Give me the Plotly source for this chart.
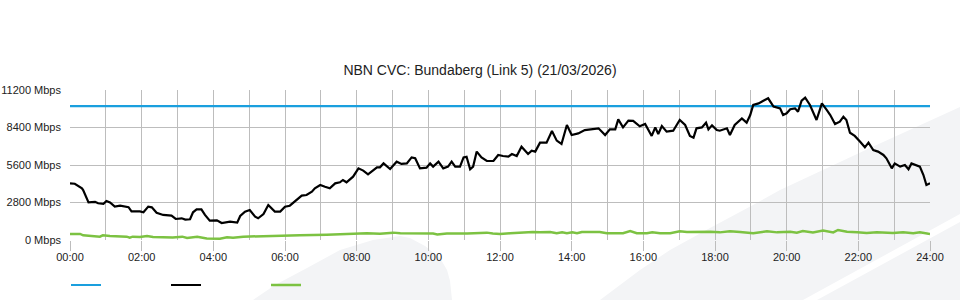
import plotly.graph_objects as go

# ---------------- data ----------------
title_text = "NBN CVC: Bundaberg (Link 5) (21/03/2026)"

tick_minutes = [0, 120, 240, 360, 480, 600, 720, 840, 960, 1080, 1200, 1320, 1440]
tick_labels = ["00:00", "02:00", "04:00", "06:00", "08:00", "10:00", "12:00",
               "14:00", "16:00", "18:00", "20:00", "22:00", "24:00"]
y_ticks = [0, 2800, 5600, 8400, 11200]
y_tick_labels = ["0 Mbps", "2800 Mbps", "5600 Mbps", "8400 Mbps", "11200 Mbps"]

capacity_min = [0, 1440]
capacity_val = [10000, 10000]

traffic_min = [0, 8, 20, 22, 31, 42, 47, 56, 61, 67, 75, 84, 98, 103, 117, 123, 131, 137,
               145, 156, 170, 177, 187, 193, 201, 206, 212, 220, 226, 234, 246, 254, 268,
               280, 285, 293, 301, 310, 315, 324, 332, 343, 352, 360, 368, 380, 388, 396,
               405, 410, 419, 427, 435, 444, 452, 457, 463, 474, 483, 491, 499, 514, 519,
               525, 536, 547, 555, 564, 572, 578, 586, 597, 603, 608, 617, 625, 633, 639,
               645, 653, 659, 664, 670, 675, 681, 689, 698, 709, 717, 725, 734, 740, 748,
               756, 767, 773, 779, 787, 798, 807, 815, 823, 832, 840, 851, 862, 874, 885,
               896, 904, 913, 918, 926, 935, 943, 954, 963, 974, 980, 985, 991, 999, 1010,
               1021, 1030, 1038, 1044, 1049, 1058, 1065, 1069, 1075, 1083, 1088, 1100, 1105,
               1113, 1125, 1133, 1139, 1144, 1153, 1161, 1169, 1178, 1189, 1194, 1200, 1206,
               1214, 1219, 1225, 1231, 1239, 1250, 1259, 1267, 1273, 1281, 1289, 1295, 1300,
               1306, 1314, 1323, 1331, 1337, 1345, 1353, 1362, 1367, 1376, 1381, 1390, 1398,
               1404, 1409, 1418, 1423, 1429, 1434, 1440]
traffic_val = [4230, 4200, 3860, 3730, 2810, 2850, 2740, 2700, 2910, 2800, 2490, 2560, 2450,
               2140, 2140, 2070, 2490, 2440, 2040, 1870, 1820, 1570, 1620, 1520, 1550, 2070,
               2290, 2290, 1870, 1440, 1470, 1270, 1370, 1300, 1790, 2120, 2240, 1740, 1620,
               1940, 2610, 2120, 2120, 2490, 2560, 2990, 3310, 3360, 3610, 3860, 4110, 3980,
               3860, 4230, 4310, 4480, 4310, 4730, 5350, 5180, 4900, 5430, 5430, 5720, 5300,
               5850, 5680, 5720, 6170, 6100, 5350, 5400, 5720, 5480, 5850, 5350, 5480, 5850,
               5480, 5480, 6170, 6220, 5280, 5480, 6600, 6170, 5900, 5900, 6350, 6270, 6220,
               6420, 6270, 6970, 6420, 6670, 6600, 7270, 7270, 8140, 7420, 7170, 8590, 7840,
               7960, 8210, 8260, 8340, 7840, 8260, 8260, 9010, 8410, 8910, 8890, 8490, 8660,
               7770, 8410, 7920, 8510, 8090, 8160, 8960, 8590, 7770, 7640, 8340, 8410, 8760,
               8260, 8560, 8210, 8160, 8340, 7840, 8590, 9080, 8760, 9330, 10080, 10200, 10400,
               10580, 9960, 9830, 9330, 9460, 9760, 9830, 9580, 10400, 10630, 10080, 8960,
               10200, 9710, 9330, 8660, 8840, 9210, 8960, 8010, 7770, 7340, 6920, 7270, 6720,
               6600, 6350, 6100, 5350, 5720, 5480, 5600, 5280, 5720, 5600, 5480, 4850, 4110,
               4230]

upload_min = [0, 17, 22, 45, 50, 55, 67, 95, 100, 105, 117, 129, 139, 172, 188, 196, 213,
              229, 251, 263, 273, 290, 335, 363, 385, 430, 457, 497, 519, 541, 553, 608,
              615, 631, 665, 698, 708, 720, 737, 758, 775, 787, 804, 815, 824, 832, 841,
              849, 857, 887, 899, 926, 938, 949, 966, 975, 988, 1005, 1021, 1033, 1072,
              1088, 1105, 1122, 1144, 1167, 1184, 1206, 1217, 1227, 1244, 1261, 1278, 1286,
              1301, 1318, 1334, 1351, 1378, 1395, 1412, 1423, 1440]
upload_val = [450, 450, 350, 300, 250, 350, 300, 250, 175, 250, 220, 300, 220, 180, 250,
              150, 250, 120, 100, 200, 175, 250, 320, 310, 350, 400, 450, 500, 470, 550,
              500, 480, 420, 490, 490, 550, 490, 450, 500, 570, 600, 570, 600, 500, 570,
              500, 570, 500, 600, 600, 500, 500, 670, 500, 500, 570, 500, 500, 650, 600,
              620, 570, 650, 600, 500, 650, 570, 620, 550, 670, 570, 700, 570, 750, 620,
              570, 520, 570, 520, 570, 500, 570, 450]

# ---------------- styling ----------------
BLUE = "#1a9fde"
BLACK = "#000000"
GREEN = "#7cc242"
GRID = "#bdbdbd"
FONT = "Liberation Sans, Arial, sans-serif"

L, R, T, B = 70, 30, 90, 60
W, H = 960, 300
PW, PH = W - L - R, H - T - B


def px_path(points):
    """Convert pixel points of the faint background watermark to a paper path."""
    parts = []
    for i, (px, py) in enumerate(points):
        xp = (px - L) / PW
        yp = (H - B - py) / PH
        parts.append(("M" if i == 0 else "L") + f"{xp:.4f},{yp:.4f}")
    return " ".join(parts) + " Z"


watermark = [
    [(253, 300), (275, 285), (307, 268), (340, 250), (373, 240), (400, 236), (410, 238),
     (425, 246), (440, 258), (447, 270), (450, 281), (452, 300)],
    [(600, 300), (640, 270), (670, 250), (710, 228), (753, 205), (780, 190), (870, 148),
     (960, 107), (960, 214), (803, 300)],
    [(817, 300), (960, 222), (960, 300)],
]

fig = go.Figure()
fig.add_trace(go.Scatter(x=capacity_min, y=capacity_val, mode="lines", name=" ",
                         line=dict(color=BLUE, width=2.2)))
fig.add_trace(go.Scatter(x=traffic_min, y=traffic_val, mode="lines", name=" ",
                         line=dict(color=BLACK, width=2.2)))
fig.add_trace(go.Scatter(x=upload_min, y=upload_val, mode="lines", name=" ",
                         line=dict(color=GREEN, width=2.5)))

fig.update_layout(
    width=W, height=H,
    margin=dict(l=L, r=R, t=T, b=B, pad=0, autoexpand=False),
    paper_bgcolor="white",
    plot_bgcolor="rgba(0,0,0,0)",
    font=dict(family=FONT, size=11, color="#222"),
    title=dict(text=title_text, x=0.5, xref="container", xanchor="center",
               y=(H - 70) / H, yref="container", yanchor="middle",
               font=dict(size=14, color="#222", family=FONT)),
    showlegend=True,
    legend=dict(orientation="h", xref="container", yref="container",
                x=(L - 4) / W, xanchor="left", y=15 / H, yanchor="middle",
                entrywidth=55, entrywidthmode="pixels", itemwidth=30,
                bgcolor="rgba(0,0,0,0)", font=dict(size=11)),
    shapes=[dict(type="path", xref="paper", yref="paper", path=px_path(p),
                 fillcolor="#f3f4f6", line=dict(width=0), layer="below")
            for p in watermark],
)

fig.update_xaxes(
    range=[0, 1440], tickvals=tick_minutes, ticktext=tick_labels,
    showgrid=True, gridcolor=GRID, gridwidth=1,
    ticks="outside", ticklen=10, tickcolor=GRID, tickwidth=1,
    minor=dict(dtick=60, tick0=0, showgrid=True, gridcolor=GRID, gridwidth=1, ticks=""),
    zeroline=False, showline=False, tickfont=dict(size=11, color="#222"),
    ticklabelstandoff=-3, automargin=False, fixedrange=True,
)
fig.update_yaxes(
    range=[0, 11200], tickvals=y_ticks, ticktext=y_tick_labels,
    showgrid=True, gridcolor=GRID, gridwidth=1, zeroline=False, showline=False,
    ticks="", ticklabelstandoff=8, tickfont=dict(size=11, color="#222"),
    automargin=False, fixedrange=True,
)

fig.write_html("out.html")
